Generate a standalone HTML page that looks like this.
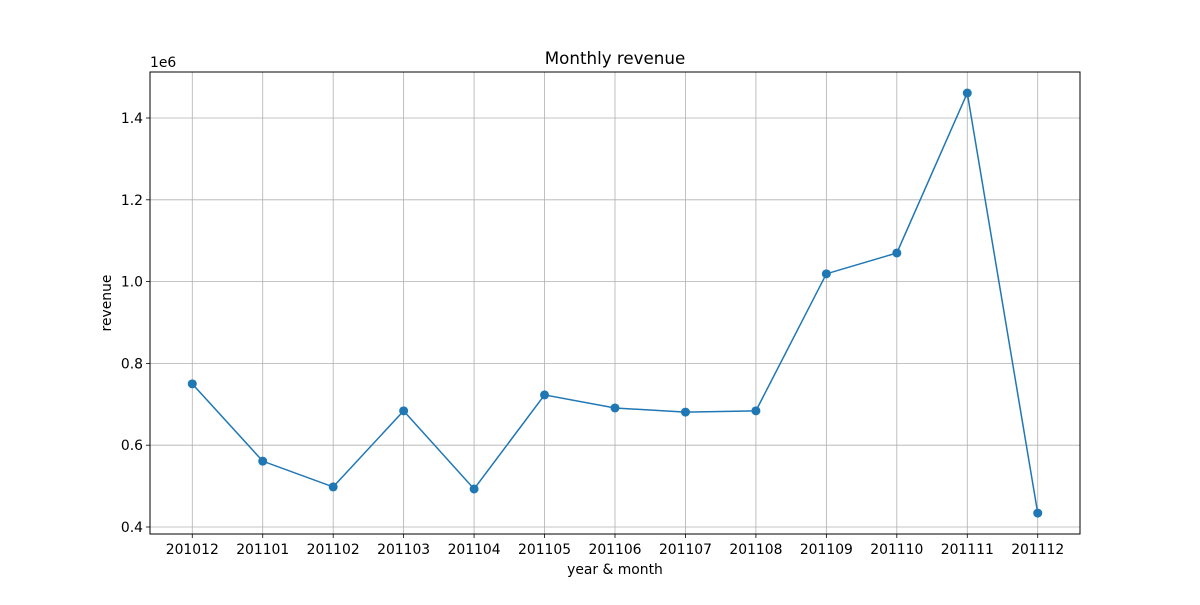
<!DOCTYPE html>
<html><head><meta charset="utf-8"><style>
body{margin:0;background:#fff;}
svg text{font-family:"DejaVu Sans","Liberation Sans",sans-serif;fill:#000;}
</style></head><body>
<svg id="chart" width="1200" height="600" xmlns="http://www.w3.org/2000/svg">
<rect width="1200" height="600" fill="#fff"/>
<g id="grid"></g>
<g id="axes"></g>
<g id="series"></g>
<rect x="150" y="72" width="930" height="462" fill="none" stroke="#000" stroke-width="1"/>
<text x="615" y="64" font-size="16.7" text-anchor="middle">Monthly revenue</text>
<text x="615" y="574" font-size="13.9" text-anchor="middle">year &amp; month</text>
<text x="111" y="303" font-size="13.9" text-anchor="middle" transform="rotate(-90 111 303)">revenue</text>
<text x="150" y="67" font-size="13.9">1e6</text>
</svg>
<script>
const categories=["201012","201101","201102","201103","201104","201105","201106","201107","201108","201109","201110","201111","201112"];
const revenue=[0.750,0.561,0.498,0.684,0.493,0.723,0.691,0.681,0.684,1.019,1.070,1.461,0.434];
const yTicks=[0.4,0.6,0.8,1.0,1.2,1.4];
const yTickLabels=["0.4","0.6","0.8","1.0","1.2","1.4"];
const NS="http://www.w3.org/2000/svg";
const L=150,R=1080,T=72,B=534;
const xMin=-0.6,xMax=categories.length-1+0.6;
const x=i=>L+(i-xMin)/(xMax-xMin)*(R-L);
const y=v=>527-(v-0.4)/1.0*409;
function mk(tag,attrs,parent){const e=document.createElementNS(NS,tag);for(const k in attrs)e.setAttribute(k,attrs[k]);parent.appendChild(e);return e;}
const grid=document.getElementById('grid'),axes=document.getElementById('axes'),series=document.getElementById('series');
categories.forEach((c,i)=>{
 const g=mk('line',{x1:x(i),x2:x(i),y1:T,y2:B,stroke:'#b0b0b0','stroke-width':0.8},grid);
 
 
 const t=mk('line',{x1:x(i),x2:x(i),y1:B,y2:B+4,stroke:'#000','stroke-width':0.8},axes);
 
 
 const l=mk('text',{x:x(i),y:B+20,'font-size':13.9,'text-anchor':'middle'},axes);
 l.textContent=c;
 
 
});
yTicks.forEach((v,i)=>{
 const g=mk('line',{x1:L,x2:R,y1:y(v),y2:y(v),stroke:'#b0b0b0','stroke-width':0.8},grid);
 
 
 const t=mk('line',{x1:L-4,x2:L,y1:y(v),y2:y(v),stroke:'#000','stroke-width':0.8},axes);
 
 
 const l=mk('text',{x:L-7,y:y(v)+5,'font-size':13.9,'text-anchor':'end'},axes);
 l.textContent=yTickLabels[i];
 
 
});
const pl=mk('polyline',{points:revenue.map((v,i)=>x(i)+','+y(v)).join(' '),fill:'none',stroke:'#1f77b4','stroke-width':1.5},series);


revenue.forEach((v,i)=>{
 const c=mk('circle',{cx:x(i),cy:y(v),r:4.5,fill:'#1f77b4'},series);
 
 
});
</script>
</body></html>
